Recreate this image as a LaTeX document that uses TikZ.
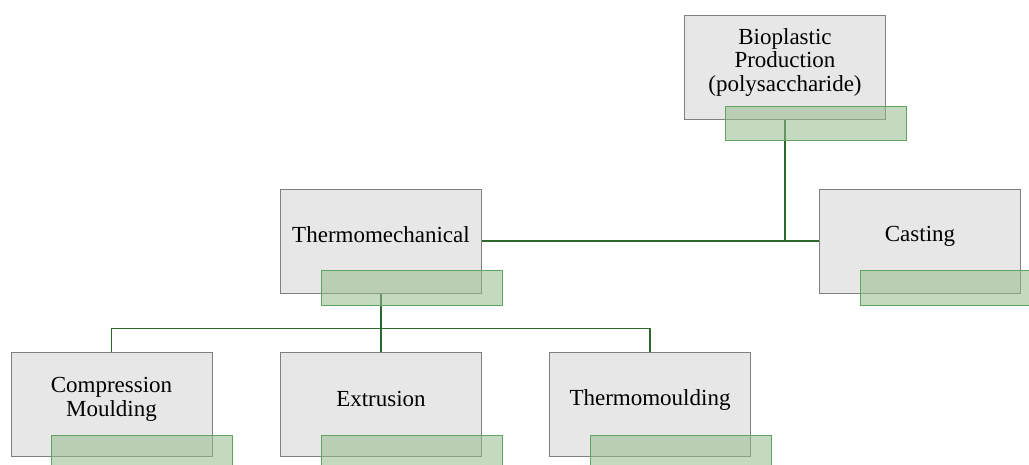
\documentclass[tikz,border=0pt]{standalone}
\usepackage{fontspec}
\setmainfont{Liberation Serif}
\definecolor{boxfill}{RGB}{231,231,231}
\definecolor{boxdraw}{RGB}{128,128,128}
\definecolor{gfill}{RGB}{150,185,140}
\definecolor{gdraw}{RGB}{95,165,95}
\definecolor{linec}{RGB}{45,105,45}
\tikzset{
  graybox/.style={draw=boxdraw, fill=boxfill, line width=1pt, minimum width=201pt, minimum height=104pt, inner sep=0pt},
  greenbox/.style={draw=gdraw, fill=gfill, fill opacity=0.55, line width=0.9pt, minimum width=181pt, minimum height=35pt, inner sep=0pt},
  lbl/.style={font=\fontsize{23}{23.5}\selectfont, align=center, inner sep=0pt},
  conn/.style={draw=linec, line width=1.4pt}
}
\begin{document}
\begin{tikzpicture}[x=1pt,y=-1pt]
\useasboundingbox (0,0) rectangle (1029,464);
% gray boxes
\node[graybox] (bio) at (785,67) {};
\node[graybox] (thermo) at (381,241) {};
\node[graybox] (cast) at (920,241) {};
\node[graybox] (comp) at (111.5,404.5) {};
\node[graybox] (extr) at (381,404.5) {};
\node[graybox] (thm) at (650,404.5) {};
% labels
\node[lbl] (bioT) at (785,62) {Bioplastic\\Production\\(polysaccharide)};
\node[lbl] (thermoT) at (381,235) {Thermomechanical};
\node[lbl] (castT) at (920,236.5) {Casting};
\node[lbl] (compT) at (111.5,399.5) {Compression\\Moulding};
\node[lbl] (extrT) at (381,398.5) {Extrusion};
\node[lbl] (thmT) at (650,400) {Thermomoulding};
% connectors
\coordinate (split) at (381,328.5);
\draw[conn] (thermo.east) -- (cast.west);
\draw[conn] (bio.south) -- (bio.south |- cast.west);
\draw[conn] (thermo.south) -- (extr.north);
\draw[conn] (comp.north) -- (comp.north |- split) -- (thm.north |- split) -- (thm.north);
% green boxes
\node[greenbox, minimum height=34pt] (bioG) at (815.5,123) {};
\node[greenbox] (thermoG) at (411.5,287.5) {};
\node[greenbox] (castG) at (950.5,287.5) {};
\node[greenbox] (compG) at (142,452.5) {};
\node[greenbox] (extrG) at (411.5,452.5) {};
\node[greenbox] (thmG) at (681,452.5) {};
\end{tikzpicture}
\end{document}
